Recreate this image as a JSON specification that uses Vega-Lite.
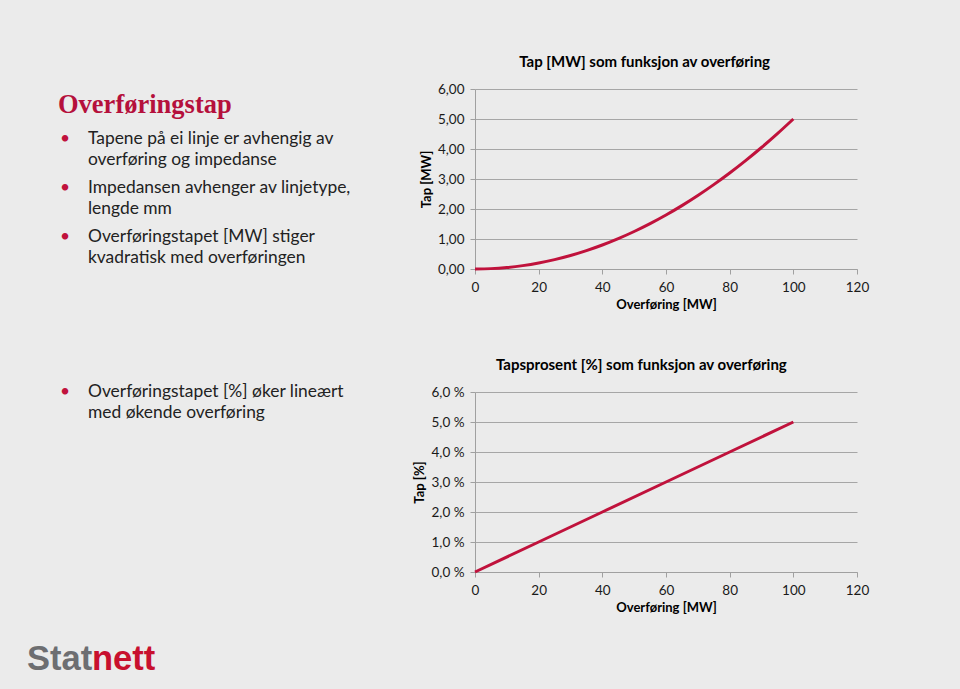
{
  "$schema": "https://vega.github.io/schema/vega-lite/v6.json",
  "background": "#ebebeb",
  "padding": {"left": 27, "top": 55, "right": 91, "bottom": 17},
  "config": {
    "view": {"stroke": null},
    "font": "Lato",
    "locale": {"number": {"decimal": ",", "thousands": " ", "grouping": [3], "currency": ["", " kr"], "percent": " %"}},
    "axis": {
      "labelFont": "Lato", "labelFontSize": 13.5, "labelColor": "#1a1a1a",
      "titleFont": "Lato", "titleFontSize": 13, "titleFontWeight": "bold", "titleColor": "#000",
      "domainColor": "#a0a0a0", "tickColor": "#a0a0a0", "gridColor": "#a6a6a6",
      "tickSize": 5, "labelPadding": 6, "titlePadding": 5
    },
    "axisX": {"grid": false, "labelFlush": false},
    "axisY": {"grid": true, "titlePadding": 4},
    "title": {"font": "Lato", "fontSize": 15, "fontWeight": "bold", "color": "#000", "offset": 12, "anchor": "middle", "frame": "bounds"}
  },
  "spacing": 56,
  "hconcat": [
    {
      "spacing": 0,
      "vconcat": [
        {
          "width": 330, "height": 178,
          "data": {"values": [
            {"k": "t", "txt": "Overføringstap"},
            {"k": "b1", "txt": "Tapene på ei linje er avhengig av\noverføring og impedanse"},
            {"k": "b2", "txt": "Impedansen avhenger av linjetype,\nlengde mm"},
            {"k": "b3", "txt": "Overføringstapet [MW] stiger\nkvadratisk med overføringen"}
          ]},
          "encoding": {
            "x": {"value": 0},
            "y": {"field": "k", "type": "ordinal", "axis": null, "scale": {"type": "point", "domain": ["t", "b1", "b2", "b3"], "padding": 0.3163, "align": 0.1935}}
          },
          "layer": [
            {
              "transform": [{"filter": "datum.k === 't'"}],
              "mark": {"type": "text", "font": "Liberation Serif", "fontSize": 26.5, "fontWeight": "bold", "fill": "#b5103c", "align": "left", "baseline": "alphabetic", "dx": 31, "dy": 18},
              "encoding": {"text": {"field": "txt"}}
            },
            {
              "transform": [{"filter": "datum.k !== 't'"}],
              "mark": {"type": "text", "font": "Lato", "fontSize": 17.4, "fill": "#c0123c", "align": "left", "baseline": "alphabetic", "dx": 33},
              "encoding": {"text": {"value": "•"}}
            },
            {
              "transform": [{"filter": "datum.k !== 't'"}],
              "mark": {"type": "text", "font": "Lato", "fontSize": 17.4, "fill": "#222222", "align": "left", "baseline": "alphabetic", "dx": 61, "lineBreak": "\n", "lineHeight": 21},
              "encoding": {"text": {"field": "txt"}}
            }
          ]
        },
        {
          "width": 330, "height": 375,
          "data": {"values": [
            {"k": "b4", "txt": "Overføringstapet [%] øker lineært\nmed økende overføring"}
          ]},
          "encoding": {
            "x": {"value": 0},
            "y": {"field": "k", "type": "ordinal", "axis": null, "scale": {"type": "point", "align": 0.3467}}
          },
          "layer": [
            {
              "mark": {"type": "text", "font": "Lato", "fontSize": 17.4, "fill": "#c0123c", "align": "left", "baseline": "alphabetic", "dx": 33},
              "encoding": {"text": {"value": "•"}}
            },
            {
              "mark": {"type": "text", "font": "Lato", "fontSize": 17.4, "fill": "#222222", "align": "left", "baseline": "alphabetic", "dx": 61, "lineBreak": "\n", "lineHeight": 21},
              "encoding": {"text": {"field": "txt"}}
            }
          ]
        },
        {
          "width": 330, "height": 30,
          "data": {"values": [{"a": "Stat", "b": "nett"}]},
          "layer": [
            {
              "mark": {"type": "text", "font": "Liberation Sans", "fontSize": 34.5, "fontWeight": "bold", "fill": "#6d6e71", "align": "left", "baseline": "alphabetic"},
              "encoding": {"x": {"value": 0}, "text": {"field": "a"}}
            },
            {
              "mark": {"type": "text", "font": "Liberation Sans", "fontSize": 34.5, "fontWeight": "bold", "fill": "#c8102e", "align": "left", "baseline": "alphabetic", "dx": 65},
              "encoding": {"x": {"value": 0}, "text": {"field": "b"}}
            }
          ]
        }
      ]
    },
    {
      "columns": 1,
      "align": "none",
      "spacing": 46,
      "concat": [
        {
          "width": 382, "height": 180,
          "title": "Tap [MW] som funksjon av overføring",
          "data": {"values": [
            {"P": 0, "tap": 0}, {"P": 5, "tap": 0.0125}, {"P": 10, "tap": 0.05}, {"P": 15, "tap": 0.1125},
            {"P": 20, "tap": 0.2}, {"P": 25, "tap": 0.3125}, {"P": 30, "tap": 0.45}, {"P": 35, "tap": 0.6125},
            {"P": 40, "tap": 0.8}, {"P": 45, "tap": 1.0125}, {"P": 50, "tap": 1.25}, {"P": 55, "tap": 1.5125},
            {"P": 60, "tap": 1.8}, {"P": 65, "tap": 2.1125}, {"P": 70, "tap": 2.45}, {"P": 75, "tap": 2.8125},
            {"P": 80, "tap": 3.2}, {"P": 85, "tap": 3.6125}, {"P": 90, "tap": 4.05}, {"P": 95, "tap": 4.5125},
            {"P": 100, "tap": 5}
          ]},
          "mark": {"type": "line", "color": "#c0123c", "strokeWidth": 3, "interpolate": "monotone"},
          "encoding": {
            "x": {"field": "P", "type": "quantitative", "scale": {"domain": [0, 120]}, "axis": {"values": [0, 20, 40, 60, 80, 100, 120], "title": "Overføring [MW]"}},
            "y": {"field": "tap", "type": "quantitative", "scale": {"domain": [0, 6]}, "axis": {"values": [0, 1, 2, 3, 4, 5, 6], "format": ".2f", "title": "Tap [MW]"}}
          }
        },
        {
          "width": 382, "height": 180,
          "title": "Tapsprosent [%] som funksjon av overføring",
          "data": {"values": [
            {"P": 0, "pct": 0}, {"P": 20, "pct": 0.01}, {"P": 40, "pct": 0.02},
            {"P": 60, "pct": 0.03}, {"P": 80, "pct": 0.04}, {"P": 100, "pct": 0.05}
          ]},
          "mark": {"type": "line", "color": "#c0123c", "strokeWidth": 3},
          "encoding": {
            "x": {"field": "P", "type": "quantitative", "scale": {"domain": [0, 120]}, "axis": {"values": [0, 20, 40, 60, 80, 100, 120], "title": "Overføring [MW]"}},
            "y": {"field": "pct", "type": "quantitative", "scale": {"domain": [0, 0.06]}, "axis": {"values": [0, 0.01, 0.02, 0.03, 0.04, 0.05, 0.06], "format": ".1%", "title": "Tap [%]"}}
          }
        }
      ]
    }
  ]
}
